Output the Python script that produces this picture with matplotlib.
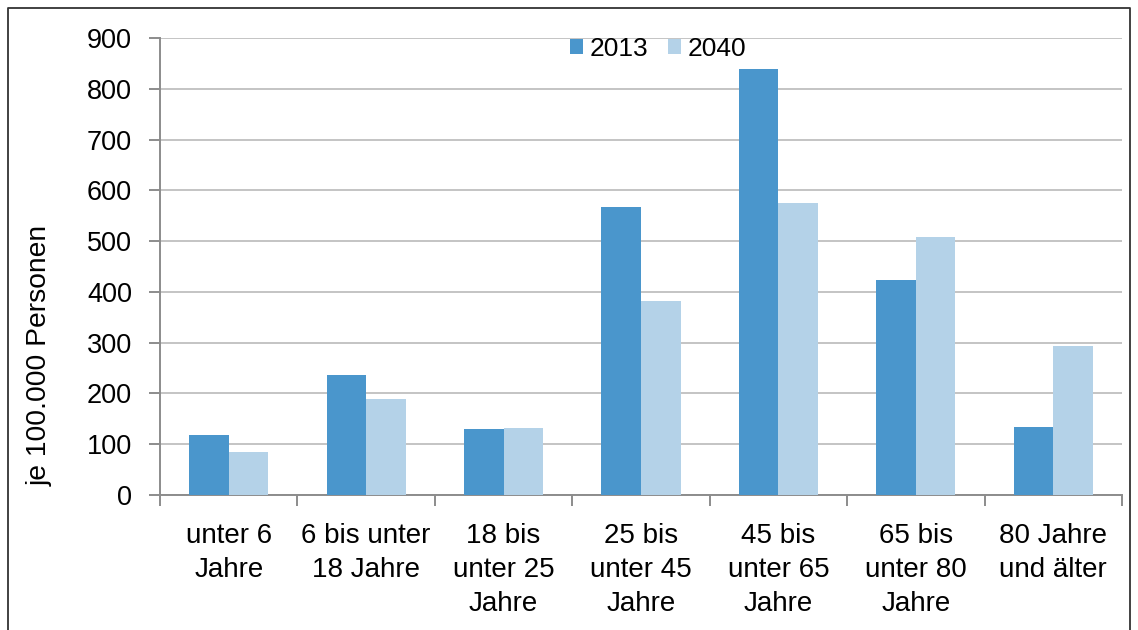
import matplotlib
matplotlib.use("Agg")
import matplotlib.pyplot as plt
from matplotlib.lines import Line2D
import numpy as np

categories = ["unter 6\nJahre", "6 bis unter\n18 Jahre", "18 bis\nunter 25\nJahre",
              "25 bis\nunter 45\nJahre", "45 bis\nunter 65\nJahre", "65 bis\nunter 80\nJahre",
              "80 Jahre\nund älter"]
values_2013 = [118, 236, 130, 567, 839, 423, 134]
values_2040 = [85, 189, 131, 382, 575, 508, 293]
series_names = ["2013", "2040"]
yticks = [0, 100, 200, 300, 400, 500, 600, 700, 800, 900]

c2013 = "#4A96CC"
c2040 = "#B4D2E8"

plt.rcParams['font.family'] = ['Liberation Sans', 'DejaVu Sans']

W, H = 1138, 630
fig = plt.figure(figsize=(W/100, H/100), dpi=100)
ax = fig.add_axes([160/W, 1-495/H, (1122-160)/W, (495-38)/H])

x = np.arange(len(categories))
bw = 0.288
ax.bar(x - bw/2, values_2013, width=bw, color=c2013, label=series_names[0], zorder=3)
ax.bar(x + bw/2, values_2040, width=bw, color=c2040, label=series_names[1], zorder=3)

ax.set_xlim(-0.5, len(categories) - 0.5)
ax.set_ylim(0, 900)
ax.set_yticks(yticks)
ax.set_yticklabels([str(t) for t in yticks], fontsize=19.5)
ax.yaxis.grid(True, color="#C4C4C4", linewidth=1.4, zorder=0)
ax.set_axisbelow(True)

ax.set_xticks(x)
ax.set_xticklabels(categories, fontsize=20, linespacing=1.4, va="top")
ax.tick_params(axis="x", length=0, pad=20)
ax.set_xticks(np.arange(len(categories) + 1) - 0.5, minor=True)
ax.tick_params(axis="x", which="minor", length=8, color="#8C8C8C", width=1.4)
ax.tick_params(axis="y", length=8, color="#8C8C8C", width=1.4, pad=12)

for s in ["top", "right"]:
    ax.spines[s].set_visible(False)
for s in ["left", "bottom"]:
    ax.spines[s].set_color("#8C8C8C")
    ax.spines[s].set_linewidth(1.4)

fig.text(40/W, 1-355/H, "je 100.000 Personen", rotation=90, fontsize=20.3,
         ha="center", va="center")

leg = ax.legend(loc="upper center", bbox_to_anchor=(0.518, 1.037), ncol=2, frameon=False,
                fontsize=19, handlelength=0.5, handleheight=0.5, handletextpad=0.25,
                columnspacing=0.75, borderaxespad=0.2)

# figure frame (left, top, right)
xs = [8/W, 8/W, 1130/W, 1130/W]
ys = [0, 1-8/H, 1-8/H, 0]
fig.add_artist(Line2D(xs, ys, transform=fig.transFigure, color="#333333", linewidth=1.3))

fig.savefig("out.png", dpi=100)
